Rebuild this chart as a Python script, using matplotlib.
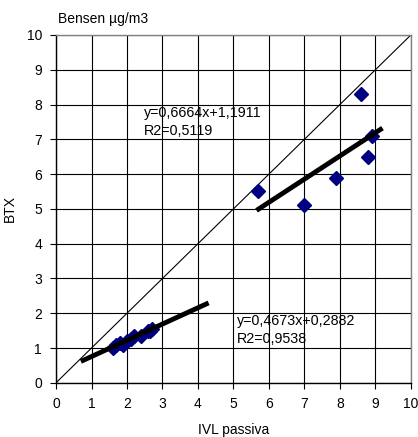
import matplotlib
matplotlib.use("Agg")
import matplotlib.pyplot as plt
import numpy as np

plt.rcParams['font.family'] = ['Liberation Sans', 'DejaVu Sans']

# data
low_x = [1.6, 1.7, 1.8, 1.9, 2.0, 2.1, 2.2, 2.4, 2.6, 2.7, 2.65]
low_y = [1.0, 1.1, 1.15, 1.1, 1.2, 1.25, 1.35, 1.35, 1.5, 1.55, 1.5]
high_x = [5.7, 7.0, 7.9, 8.6, 8.8, 8.9]
high_y = [5.5, 5.1, 5.9, 8.3, 6.5, 7.1]
fit_low = (0.4673, 0.2882)
fit_low_range = [0.7, 4.3]
fit_high = (0.6664, 1.1911)
fit_high_range = [5.65, 9.2]
ticks = list(range(0, 11))

fig = plt.figure(figsize=(4.18, 4.37), dpi=100)
ax = fig.add_axes([0.134, 0.124, 0.849, 0.796])
ax.set_xlim(0, 10)
ax.set_ylim(0, 10)
ax.set_xticks(ticks)
ax.set_yticks(ticks)
ax.grid(True, color='black', linewidth=0.8)
ax.set_axisbelow(True)
for s in ax.spines.values():
    s.set_color('#808080')
    s.set_linewidth(1.0)
ax.spines['left'].set_color('black')
ax.spines['bottom'].set_color('black')
ax.tick_params(direction='out', length=4, width=0.8, labelsize=10, pad=6)

ax.plot([0, 10], [0, 10], color='black', linewidth=0.8, zorder=2)
ax.plot(low_x, low_y, linestyle='none', marker='D', markersize=7.5,
        color='#000080', zorder=3)
ax.plot(high_x, high_y, linestyle='none', marker='D', markersize=7.5,
        color='#000080', zorder=3)
for (a, b), rng in [(fit_low, fit_low_range), (fit_high, fit_high_range)]:
    xs = np.array(rng)
    ax.plot(xs, a * xs + b, color='black', linewidth=3.5,
            solid_capstyle='butt', zorder=4)

ax.text(2.48, 7.95, 'y=0,6664x+1,1911\nR2=0,5119', fontsize=10.3,
        va='top', ha='left', linespacing=1.35)
ax.text(5.1, 1.98, 'y=0,4673x+0,2882\nR2=0,9538', fontsize=10.3,
        va='top', ha='left', linespacing=1.35)

ax.set_xlabel('IVL passiva', fontsize=10, labelpad=9)
ax.set_ylabel('BTX', fontsize=10, labelpad=7)
fig.text(58 / 418, 1 - 19 / 437, 'Bensen µg/m3', fontsize=10,
         va='center', ha='left')

fig.savefig('out.png', dpi=100)
